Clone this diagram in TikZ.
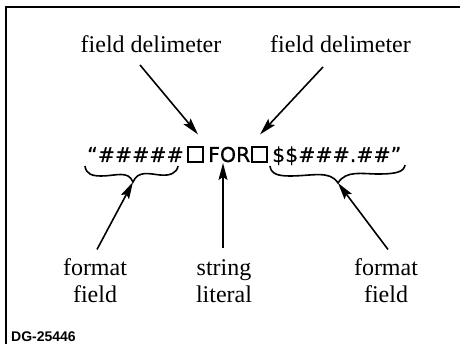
\documentclass[tikz,border=0pt]{standalone}
\usepackage{fontspec}
\setmainfont{Liberation Serif}
\newfontfamily\strfont[FakeBold=0.6]{DejaVu Sans}
\newfontfamily\idfont{Liberation Sans}
\usetikzlibrary{arrows.meta,calc}
\tikzset{
  lbl/.style={font=\fontsize{24}{27}\selectfont, inner sep=0pt, align=center},
  strtxt/.style={font=\strfont\fontsize{20.5}{24}\selectfont, inner sep=0pt, anchor=base west},
  sq/.style={draw, line width=1.1pt, minimum size=15pt, inner sep=0pt},
  arr/.style={line width=1.6pt, -{Stealth[length=17pt,width=9pt,inset=3pt]}},
  brace/.style={line width=1.6pt},
  frame/.style={line width=1.5pt}
}
\begin{document}
\begin{tikzpicture}[x=1pt,y=-1pt]
\useasboundingbox (0,0) rectangle (472,344);
% frame (top and left only)
\draw[frame] (460,7) -- (6,7) -- (6,344);
% top labels
\node[lbl, anchor=base] (fd1) at (151,53) {field delimeter};
\node[lbl, anchor=base] (fd2) at (340.5,53) {field delimeter};
% string
\node[strtxt] (fmt1) at (87,162) {“\#\#\#\#\#};
\node[sq] (d1) at (195.5,154.5) {};
\node[strtxt] (lit) at (208,162) {FOR};
\node[sq] (d2) at (259.5,154.5) {};
\node[strtxt] (fmt2) at (272,162) {\$\$\#\#\#.\#\#”};
% braces
\draw[brace] (85,166) .. controls (86,174) and (92,176) .. (101,176)
  .. controls (116,176) and (128,170) .. (133,182)
  .. controls (138,170) and (150,174) .. (160,175)
  .. controls (170,176) and (177,173) .. (178,166);
\coordinate (b1) at (133,182);
\draw[brace] (270,166) .. controls (271,174) and (278,176) .. (290,176)
  .. controls (312,176) and (330,170) .. (338,183)
  .. controls (346,170) and (362,174) .. (378,174)
  .. controls (396,174) and (404,172) .. (405,165);
\coordinate (b2) at (338,183);
% bottom labels
\node[lbl, anchor=south] (ff1) at (95,303) {format\\field};
\node[lbl, anchor=south] (sl) at (224,303) {string\\literal};
\node[lbl, anchor=south] (ff2) at (386,303) {format\\field};
% arrows
\draw[arr] ($(fd1.base)+(-11,12)$) -- ($(d1.north)+(2.5,-12)$);
\draw[arr] ($(fd2.base)+(-17.5,14)$) -- ($(d2.north)+(0.5,-12)$);
\draw[arr] ($(ff1.north)+(2,-9)$) -- (b1);
\coordinate (stail) at ($(sl.north)+(-1,-11)$);
\draw[arr] (stail) -- ($(stail |- lit.base)+(0,1)$);
\draw[arr] ($(ff2.north)+(2,-9)$) -- (b2);
% id
\node[font=\idfont\bfseries\fontsize{14}{16}\selectfont, inner sep=0pt, anchor=base west] (id) at (11,342) {DG-25446};
\end{tikzpicture}
\end{document}
